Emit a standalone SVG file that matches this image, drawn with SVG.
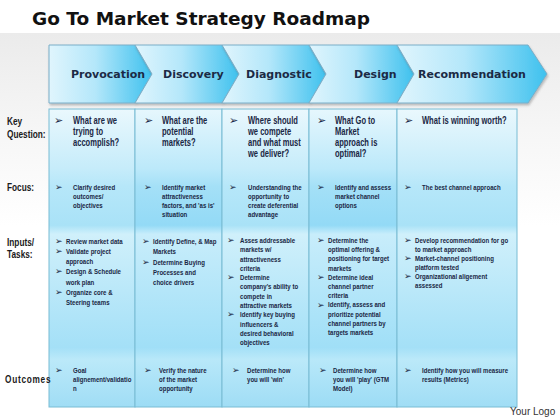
<svg xmlns="http://www.w3.org/2000/svg" width="560" height="420" viewBox="0 0 560 420">
<defs>
<style>
.ttl{font-family:"DejaVu Sans","Liberation Sans",sans-serif;font-weight:bold;font-size:18.5px;fill:#111}
.ch{font-family:"DejaVu Sans","Liberation Sans",sans-serif;font-weight:bold;font-size:11px;fill:#1b2a45}
.t{font-family:"Liberation Sans",Arial,sans-serif;font-weight:bold;fill:#1a2744}
.kq{font-size:10.5px}
.sm{font-size:8px}
.lb{font-family:"Liberation Sans",Arial,sans-serif;font-weight:bold;font-size:11.5px;fill:#1a1a1a}
.ar{font-family:"DejaVu Sans",sans-serif;fill:#1a2744}
.ak{font-size:11px}
.as{font-size:9px}
.chev{stroke:#7aaec8;stroke-width:1;filter:url(#sh)}
.col{stroke:#79bcd4;stroke-width:1}
.logo{font-family:"Liberation Sans",Arial,sans-serif;font-size:10px;fill:#333}
</style>
<linearGradient id="bg" x1="0" y1="0" x2="0" y2="1">
<stop offset="0" stop-color="#ebebeb"/>
<stop offset="0.25" stop-color="#f6f6f6"/>
<stop offset="0.5" stop-color="#ffffff"/>
</linearGradient>
<linearGradient id="cg" x1="0" y1="0" x2="1" y2="0">
<stop offset="0" stop-color="#e0f5fd"/>
<stop offset="0.45" stop-color="#b4e7fa"/>
<stop offset="1" stop-color="#3ec1ee"/>
</linearGradient>
<linearGradient id="colg" x1="0" y1="0" x2="0" y2="1">
<stop offset="0" stop-color="#eaf8fd"/>
<stop offset="0.2" stop-color="#c6ecfa"/>
<stop offset="0.26" stop-color="#b6e7f9"/>
<stop offset="0.39" stop-color="#a9e2f7"/>
<stop offset="0.42" stop-color="#d0f0fb"/>
<stop offset="0.8" stop-color="#a4e0f7"/>
<stop offset="0.84" stop-color="#bbe9f9"/>
<stop offset="1" stop-color="#a0ddf5"/>
</linearGradient>
<linearGradient id="colg2" x1="0" y1="0" x2="0" y2="1">
<stop offset="0" stop-color="#e6f7fd"/>
<stop offset="0.2" stop-color="#bce9fa"/>
<stop offset="0.26" stop-color="#a4e0f7"/>
<stop offset="0.39" stop-color="#93daf6"/>
<stop offset="0.42" stop-color="#c8edfb"/>
<stop offset="0.8" stop-color="#a0dff7"/>
<stop offset="0.84" stop-color="#b8e8f9"/>
<stop offset="1" stop-color="#9cdcf5"/>
</linearGradient>
<filter id="sh" x="-5%" y="-10%" width="115%" height="130%">
<feDropShadow dx="1" dy="2" stdDeviation="1.2" flood-color="#555" flood-opacity="0.35"/>
</filter>
</defs>

<rect x="0" y="0" width="560" height="420" fill="#ffffff"/>
<rect x="0" y="33" width="560" height="387" fill="url(#bg)"/>

<text id="title" class="ttl" x="32" y="25">Go To Market Strategy Roadmap</text>

<g id="columns">
<rect class="col" x="49" y="109" width="86" height="298" fill="url(#colg)"/>
<rect class="col" x="135" y="109" width="87" height="298" fill="url(#colg2)"/>
<rect class="col" x="222" y="109" width="87" height="298" fill="url(#colg)"/>
<rect class="col" x="309" y="109" width="88" height="298" fill="url(#colg2)"/>
<rect class="col" x="397" y="109" width="120" height="298" fill="url(#colg)"/>
</g>

<g id="chevron-provocation">
<polygon class="chev" points="49,45 135,45 152,74 135,103 49,103" fill="url(#cg)"/>
<text class="ch" x="71" y="78">Provocation</text>
</g>
<g id="chevron-discovery">
<polygon class="chev" points="135,45 222,45 239,74 222,103 135,103 152,74" fill="url(#cg)"/>
<text class="ch" x="163" y="78">Discovery</text>
</g>
<g id="chevron-diagnostic">
<polygon class="chev" points="222,45 309,45 326,74 309,103 222,103 239,74" fill="url(#cg)"/>
<text class="ch" x="246" y="78">Diagnostic</text>
</g>
<g id="chevron-design">
<polygon class="chev" points="309,45 397,45 414,74 397,103 309,103 326,74" fill="url(#cg)"/>
<text class="ch" x="354" y="78">Design</text>
</g>
<g id="chevron-recommendation">
<polygon class="chev" points="397,45 528,45 547,74 528,103 397,103 414,74" fill="url(#cg)"/>
<text class="ch" x="418" y="78">Recommendation</text>
</g>

<g id="connectors"></g>

<g id="row-labels">
<g transform="matrix(0.72 0 0 1 7 0)">
<text class="lb"><tspan x="0" y="125">Key</tspan><tspan x="0" y="138">Question:</tspan></text>
<text class="lb" x="0" y="191">Focus:</text>
<text class="lb"><tspan x="0" y="246">Inputs/</tspan><tspan x="0" y="258">Tasks:</tspan></text>
</g>
<g transform="matrix(0.72 0 0 1 5 0)">
<text class="lb" x="0" y="383" letter-spacing="1">Outcomes</text>
</g>
</g>

<!-- Key questions -->
<g id="kq-1">
<text class="ar ak" x="54" y="124">➢</text>
<g transform="matrix(0.72 0 0 1 73 0)"><text class="t kq"><tspan x="0" y="124">What are we</tspan><tspan x="0" y="135">trying to</tspan><tspan x="0" y="146">accomplish?</tspan></text></g>
</g>
<g id="kq-2">
<text class="ar ak" x="144" y="124">➢</text>
<g transform="matrix(0.72 0 0 1 162 0)"><text class="t kq"><tspan x="0" y="124">What are the</tspan><tspan x="0" y="135">potential</tspan><tspan x="0" y="146">markets?</tspan></text></g>
</g>
<g id="kq-3">
<text class="ar ak" x="229" y="124">➢</text>
<g transform="matrix(0.72 0 0 1 248 0)"><text class="t kq"><tspan x="0" y="124">Where should</tspan><tspan x="0" y="135">we compete</tspan><tspan x="0" y="146">and what must</tspan><tspan x="0" y="157">we deliver?</tspan></text></g>
</g>
<g id="kq-4">
<text class="ar ak" x="317" y="124">➢</text>
<g transform="matrix(0.72 0 0 1 335 0)"><text class="t kq"><tspan x="0" y="124">What Go to</tspan><tspan x="0" y="135">Market</tspan><tspan x="0" y="146">approach is</tspan><tspan x="0" y="157">optimal?</tspan></text></g>
</g>
<g id="kq-5">
<text class="ar ak" x="404" y="124">➢</text>
<g transform="matrix(0.72 0 0 1 422 0)"><text class="t kq"><tspan x="0" y="124">What is winning worth?</tspan></text></g>
</g>

<!-- Focus -->
<g id="focus-1">
<text class="ar as" x="55" y="190">➢</text>
<g transform="matrix(0.76 0 0 1 73 0)"><text class="t sm"><tspan x="0" y="190">Clarify desired</tspan><tspan x="0" y="199">outcomes/</tspan><tspan x="0" y="208">objectives</tspan></text></g>
</g>
<g id="focus-2">
<text class="ar as" x="144" y="190">➢</text>
<g transform="matrix(0.76 0 0 1 162 0)"><text class="t sm"><tspan x="0" y="190">Identify market</tspan><tspan x="0" y="199">attractiveness</tspan><tspan x="0" y="208">factors, and 'as is'</tspan><tspan x="0" y="217">situation</tspan></text></g>
</g>
<g id="focus-3">
<text class="ar as" x="229" y="190">➢</text>
<g transform="matrix(0.76 0 0 1 248 0)"><text class="t sm"><tspan x="0" y="190">Understanding the</tspan><tspan x="0" y="199">opportunity to</tspan><tspan x="0" y="208">create deferential</tspan><tspan x="0" y="217">advantage</tspan></text></g>
</g>
<g id="focus-4">
<text class="ar as" x="317" y="190">➢</text>
<g transform="matrix(0.76 0 0 1 335 0)"><text class="t sm"><tspan x="0" y="190">Identify and assess</tspan><tspan x="0" y="199">market channel</tspan><tspan x="0" y="208">options</tspan></text></g>
</g>
<g id="focus-5">
<text class="ar as" x="404" y="190">➢</text>
<g transform="matrix(0.76 0 0 1 422 0)"><text class="t sm"><tspan x="0" y="190">The best channel approach</tspan></text></g>
</g>

<!-- Inputs / Tasks -->
<g id="tasks-1">
<g class="ar as"><text x="55" y="244">➢</text><text x="55" y="254">➢</text><text x="55" y="274">➢</text><text x="55" y="295">➢</text></g>
<g transform="matrix(0.76 0 0 1 66 0)"><text class="t sm"><tspan x="0" y="244">Review market data</tspan><tspan x="0" y="254">Validate project</tspan><tspan x="0" y="264">approach</tspan><tspan x="0" y="274">Design &amp; Schedule</tspan><tspan x="0" y="285">work plan</tspan><tspan x="0" y="295">Organize core &amp;</tspan><tspan x="0" y="305">Steering teams</tspan></text></g>
</g>
<g id="tasks-2">
<g class="ar as"><text x="142" y="244">➢</text><text x="142" y="265">➢</text></g>
<g transform="matrix(0.76 0 0 1 153 0)"><text class="t sm"><tspan x="0" y="244">Identify Define, &amp; Map</tspan><tspan x="0" y="254">Markets</tspan><tspan x="0" y="265">Determine Buying</tspan><tspan x="0" y="275">Processes and</tspan><tspan x="0" y="285">choice drivers</tspan></text></g>
</g>
<g id="tasks-3">
<g class="ar as"><text x="227" y="243">➢</text><text x="227" y="280">➢</text><text x="227" y="317">➢</text></g>
<g transform="matrix(0.76 0 0 1 240 0)"><text class="t sm"><tspan x="0" y="243">Asses addressable</tspan><tspan x="0" y="252.3">markets w/</tspan><tspan x="0" y="261.6">attractiveness</tspan><tspan x="0" y="270.9">criteria</tspan><tspan x="0" y="280.2">Determine</tspan><tspan x="0" y="289.5">company's ability to</tspan><tspan x="0" y="298.8">compete in</tspan><tspan x="0" y="308.1">attractive markets</tspan><tspan x="0" y="317.4">Identify key buying</tspan><tspan x="0" y="326.7">influencers &amp;</tspan><tspan x="0" y="336">desired behavioral</tspan><tspan x="0" y="345.3">objectives</tspan></text></g>
</g>
<g id="tasks-4">
<g class="ar as"><text x="317" y="243">➢</text><text x="317" y="280">➢</text><text x="317" y="308">➢</text></g>
<g transform="matrix(0.76 0 0 1 328 0)"><text class="t sm"><tspan x="0" y="243">Determine the</tspan><tspan x="0" y="252.2">optimal offering &amp;</tspan><tspan x="0" y="261.4">positioning for target</tspan><tspan x="0" y="270.6">markets</tspan><tspan x="0" y="279.8">Determine ideal</tspan><tspan x="0" y="289">channel partner</tspan><tspan x="0" y="298.2">criteria</tspan><tspan x="0" y="307.4">Identify, assess and</tspan><tspan x="0" y="316.6">prioritize potential</tspan><tspan x="0" y="325.8">channel partners by</tspan><tspan x="0" y="335">targets markets</tspan></text></g>
</g>
<g id="tasks-5">
<g class="ar as"><text x="404" y="243">➢</text><text x="404" y="261.2">➢</text><text x="404" y="279.4">➢</text></g>
<g transform="matrix(0.76 0 0 1 415 0)"><text class="t sm"><tspan x="0" y="243">Develop recommendation for go</tspan><tspan x="0" y="252.1">to market approach</tspan><tspan x="0" y="261.2">Market-channel positioning</tspan><tspan x="0" y="270.3">platform tested</tspan><tspan x="0" y="279.4">Organizational aligement</tspan><tspan x="0" y="288.5">assessed</tspan></text></g>
</g>

<!-- Outcomes -->
<g id="outcome-1">
<text class="ar as" x="55" y="373">➢</text>
<g transform="matrix(0.76 0 0 1 73 0)"><text class="t sm"><tspan x="0" y="373">Goal</tspan><tspan x="0" y="382">alignement/validatio</tspan><tspan x="0" y="391">n</tspan></text></g>
</g>
<g id="outcome-2">
<text class="ar as" x="144" y="373">➢</text>
<g transform="matrix(0.76 0 0 1 159 0)"><text class="t sm"><tspan x="0" y="373">Verify the nature</tspan><tspan x="0" y="382">of the market</tspan><tspan x="0" y="391">opportunity</tspan></text></g>
</g>
<g id="outcome-3">
<text class="ar as" x="232" y="373">➢</text>
<g transform="matrix(0.76 0 0 1 247 0)"><text class="t sm"><tspan x="0" y="373">Determine how</tspan><tspan x="0" y="382">you will 'win'</tspan></text></g>
</g>
<g id="outcome-4">
<text class="ar as" x="319" y="373">➢</text>
<g transform="matrix(0.76 0 0 1 333 0)"><text class="t sm"><tspan x="0" y="373">Determine how</tspan><tspan x="0" y="382">you will 'play' (GTM</tspan><tspan x="0" y="391">Model)</tspan></text></g>
</g>
<g id="outcome-5">
<text class="ar as" x="404" y="373">➢</text>
<g transform="matrix(0.76 0 0 1 422 0)"><text class="t sm"><tspan x="0" y="373">Identify how you will measure</tspan><tspan x="0" y="382">results (Metrics)</tspan></text></g>
</g>

<text id="logo" class="logo" x="510" y="415">Your Logo</text>
</svg>
